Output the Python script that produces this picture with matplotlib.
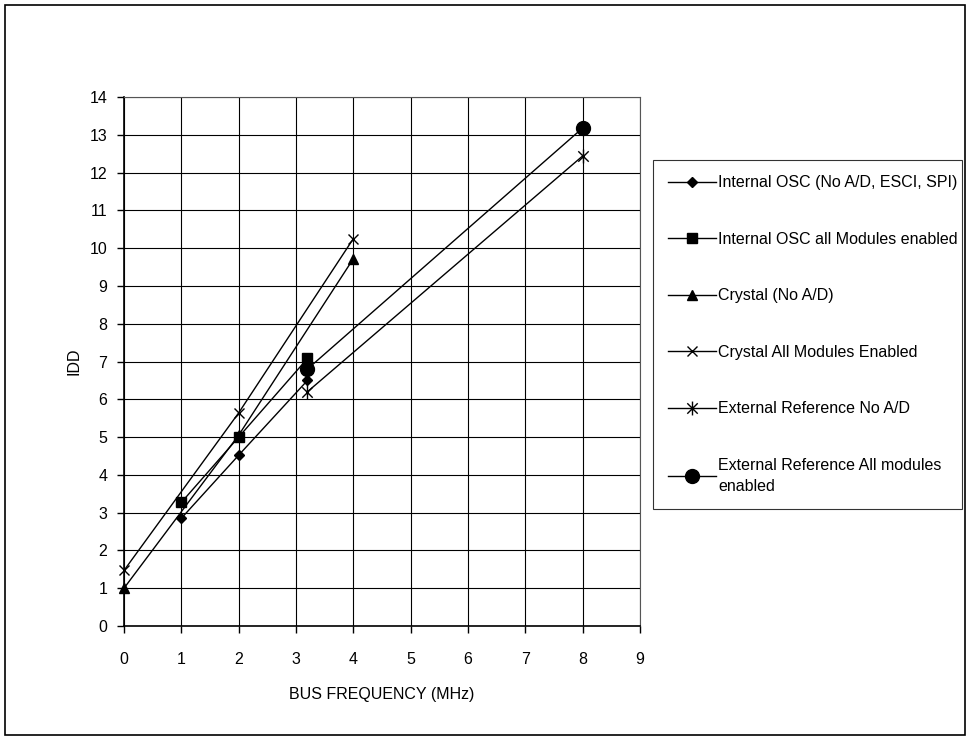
import matplotlib
matplotlib.use('Agg')
import matplotlib.pyplot as plt
from matplotlib.path import Path
from matplotlib.patches import Rectangle

plt.rcParams['font.family'] = ['Liberation Sans', 'DejaVu Sans']

# data
x_int_osc = [1, 2, 3.2]
y_int_osc = [2.85, 4.52, 6.5]

x_int_osc_all = [1, 2, 3.2]
y_int_osc_all = [3.27, 5.0, 7.08]

x_crystal = [0, 2, 4]
y_crystal = [1.0, 5.05, 9.72]

x_crystal_all = [0, 2, 4]
y_crystal_all = [1.47, 5.64, 10.25]

x_ext_ref = [3.2, 8]
y_ext_ref = [6.2, 12.44]

x_ext_ref_all = [3.2, 8]
y_ext_ref_all = [6.8, 13.18]

labels = [
    'Internal OSC (No A/D, ESCI, SPI)',
    'Internal OSC all Modules enabled',
    'Crystal (No A/D)',
    'Crystal All Modules Enabled',
    'External Reference No A/D',
    'External Reference All modules\nenabled',
]

# asterisk marker: vertical bar plus an X
asterisk = Path([(0, -1), (0, 1), (-0.75, -0.75), (0.75, 0.75), (-0.75, 0.75), (0.75, -0.75)],
                [Path.MOVETO, Path.LINETO, Path.MOVETO, Path.LINETO, Path.MOVETO, Path.LINETO])

fig = plt.figure(figsize=(9.71, 7.40), dpi=100)
ax = fig.add_axes([124 / 971, 1 - 626 / 740, (640 - 124) / 971, (626 - 97) / 740])

kw = dict(color='black', linewidth=1.0, clip_on=False)
ax.plot(x_int_osc, y_int_osc, marker='D', markersize=5.5, label=labels[0], **kw)
ax.plot(x_int_osc_all, y_int_osc_all, marker='s', markersize=7, label=labels[1], **kw)
ax.plot(x_crystal, y_crystal, marker='^', markersize=7, label=labels[2], **kw)
ax.plot(x_crystal_all, y_crystal_all, marker='x', markersize=7, markeredgewidth=1.0, label=labels[3], **kw)
ax.plot(x_ext_ref, y_ext_ref, marker=asterisk, markersize=10, markeredgewidth=1.0, label=labels[4], **kw)
ax.plot(x_ext_ref_all, y_ext_ref_all, marker='o', markersize=10, label=labels[5], **kw)

ax.set_xlim(0, 9)
ax.set_ylim(0, 14)
ax.set_xticks(range(0, 10))
ax.set_yticks(range(0, 15))
ax.grid(True, color='black', linewidth=0.8)
ax.set_axisbelow(True)
for s in ax.spines.values():
    s.set_color('#555555')
    s.set_linewidth(0.8)
ax.spines['left'].set_color('black')
ax.spines['bottom'].set_color('black')
ax.spines['left'].set_linewidth(1.2)
ax.spines['bottom'].set_linewidth(1.2)
ax.tick_params(direction='out', length=5, width=1, labelsize=11.5, pad=14)
ax.tick_params(axis='y', pad=7)

ax.set_xlabel('BUS FREQUENCY (MHz)', fontsize=11.5, labelpad=14)
ax.set_ylabel('IDD', fontsize=11.5, labelpad=6)

leg = fig.legend(loc='upper left',
                 bbox_to_anchor=(653 / 971, 1 - 160 / 740, (962 - 653) / 971, 0),
                 mode='expand', fontsize=11.5, frameon=True, fancybox=False,
                 edgecolor='black', labelspacing=2.6, handlelength=3.0,
                 handletextpad=0.15, borderpad=0.95, borderaxespad=0)
leg.get_frame().set_linewidth(0.8)
for t in leg.get_texts():
    t.set_linespacing(1.5)

# outer chart border
fig.patches.append(Rectangle((5 / 971, 5 / 740), 960 / 971, 730 / 740,
                             transform=fig.transFigure, fill=False,
                             edgecolor='black', linewidth=1.2))

fig.savefig('out.png', dpi=100)
